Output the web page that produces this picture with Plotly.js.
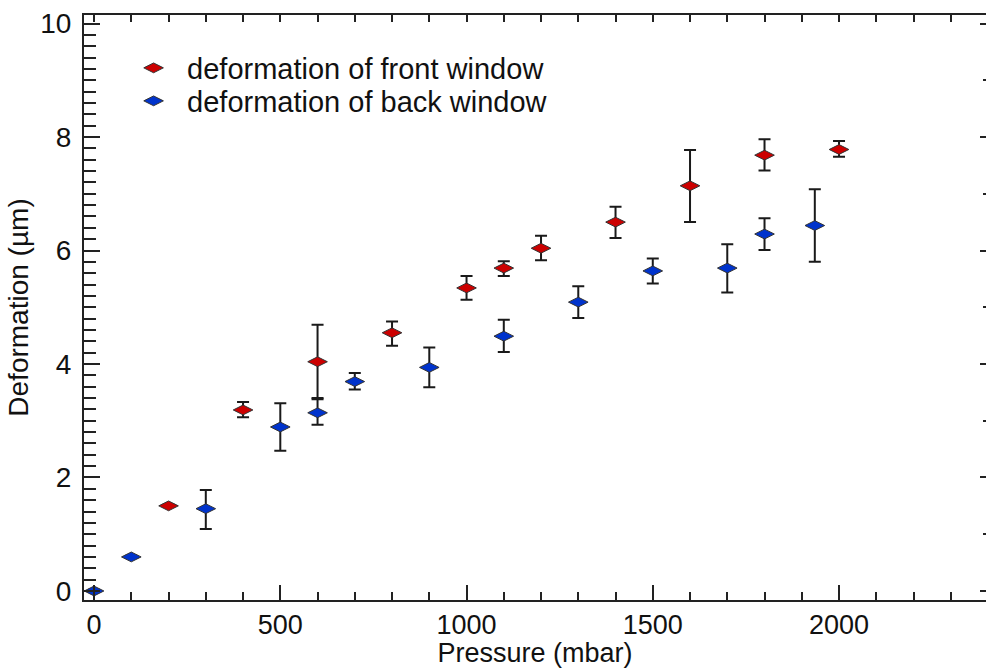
<!DOCTYPE html>
<html>
<head>
<meta charset="utf-8">
<script src="https://cdn.plot.ly/plotly-3.0.1.min.js"></script>
<style>html,body{margin:0;padding:0;background:#fff;}#chart{width:987px;height:668px;}</style>
</head>
<body>
<div id="chart"></div>
<script>
// Front window
var frontX = [200, 400, 600, 800, 1000, 1100, 1200, 1400, 1600, 1800, 2000];
var frontY = [1.50, 3.19, 4.04, 4.55, 5.34, 5.69, 6.04, 6.50, 7.14, 7.68, 7.78];
var frontHi = [1.52, 3.33, 4.69, 4.75, 5.55, 5.81, 6.26, 6.77, 7.77, 7.96, 7.93];
var frontLo = [1.48, 3.06, 3.38, 4.32, 5.13, 5.55, 5.83, 6.22, 6.50, 7.41, 7.65];
// Back window
var backX = [0, 100, 300, 500, 600, 700, 900, 1100, 1300, 1500, 1700, 1800, 1935];
var backY = [0.00, 0.60, 1.45, 2.89, 3.14, 3.69, 3.94, 4.49, 5.09, 5.64, 5.69, 6.29, 6.44];
var backHi = [0.02, 0.62, 1.78, 3.31, 3.40, 3.84, 4.29, 4.78, 5.37, 5.86, 6.11, 6.57, 7.08];
var backLo = [-0.02, 0.58, 1.09, 2.47, 2.93, 3.55, 3.59, 4.21, 4.81, 5.42, 5.26, 6.01, 5.80];

var seriesNames = ['deformation of front window', 'deformation of back window'];
var xTitle = 'Pressure (mbar)';
var yTitle = 'Deformation (µm)';

function diffs(a, b) { return a.map(function (v, i) { return Math.abs(v - b[i]); }); }

var FONT = 'Arial, "Liberation Sans", sans-serif';
var errStyle = {type: 'data', symmetric: false, color: '#1a1a1a', thickness: 2, width: 6};

var traces = [
  {
    x: frontX, y: frontY, name: seriesNames[0], type: 'scatter', mode: 'markers', legend: 'legend',
    marker: {symbol: 'diamond-wide', size: 14, color: '#cc0000', line: {color: '#333', width: 1}},
    error_y: Object.assign({array: diffs(frontHi, frontY), arrayminus: diffs(frontY, frontLo)}, errStyle)
  },
  {
    x: backX, y: backY, name: seriesNames[1], type: 'scatter', mode: 'markers', legend: 'legend2',
    marker: {symbol: 'diamond-wide', size: 14, color: '#0033cc', line: {color: '#333', width: 1}},
    error_y: Object.assign({array: diffs(backHi, backY), arrayminus: diffs(backY, backLo)}, errStyle)
  },
  {x: [null], y: [null], xaxis: 'x2', yaxis: 'y2', showlegend: false, hoverinfo: 'skip', mode: 'markers'}
];

var XR = [-27, 2394.6];
var YR = [-0.159, 10.15];

function legendAt(yFrac) {
  return {
    x: 0.04, y: yFrac, xanchor: 'left', yanchor: 'middle',
    bgcolor: 'rgba(255,255,255,0)', borderwidth: 0,
    font: {family: FONT, size: 29, color: '#111'},
    itemwidth: 57
  };
}

var layout = {
  width: 987, height: 668,
  margin: {l: 84, r: 1, t: 15, b: 68},
  paper_bgcolor: '#fff', plot_bgcolor: '#fff',
  font: {family: FONT, color: '#111', size: 26},
  showlegend: true,
  legend: legendAt(0.9094),
  legend2: legendAt(0.853),
  xaxis: {
    range: XR, showgrid: false, zeroline: false,
    showline: true, linecolor: '#222', linewidth: 2, mirror: true,
    ticks: 'inside', tickcolor: '#222', ticklen: 15, tickwidth: 2,
    tick0: 0, dtick: 500,
    minor: {dtick: 100, ticks: 'inside', ticklen: 8, tickwidth: 2, tickcolor: '#222', showgrid: false},
    tickfont: {family: FONT, size: 27, color: '#111'},
    ticklabelstandoff: 0,
    title: {text: xTitle, font: {family: FONT, size: 27, color: '#111'}, standoff: 0}
  },
  yaxis: {
    range: YR, showgrid: false, zeroline: false,
    showline: true, linecolor: '#222', linewidth: 2, mirror: false,
    ticks: 'inside', tickcolor: '#222', ticklen: 16, tickwidth: 2,
    tick0: 0, dtick: 2,
    minor: {dtick: 0.2, ticks: 'inside', ticklen: 12, tickwidth: 2, tickcolor: '#222', showgrid: false},
    tickfont: {family: FONT, size: 28, color: '#111'},
    ticklabelstandoff: 5,
    title: {text: yTitle, font: {family: FONT, size: 28, color: '#111'}, standoff: 3}
  },
  xaxis2: {
    overlaying: 'x', side: 'top', anchor: 'y2', range: XR,
    showgrid: false, zeroline: false, showline: false, showticklabels: false,
    ticks: 'inside', tickcolor: '#222', ticklen: 7, tickwidth: 2, tick0: 0, dtick: 100
  },
  yaxis2: {
    overlaying: 'y', side: 'right', anchor: 'x2', range: YR,
    showgrid: false, zeroline: false, showline: false, showticklabels: false,
    ticks: 'inside', tickcolor: '#222', ticklen: 6, tickwidth: 2, tick0: 0, dtick: 2,
    minor: {dtick: 1, ticks: 'inside', ticklen: 3, tickwidth: 2, tickcolor: '#222', showgrid: false}
  }
};

Plotly.newPlot('chart', traces, layout, {displayModeBar: false, staticPlot: true});
</script>
</body>
</html>
